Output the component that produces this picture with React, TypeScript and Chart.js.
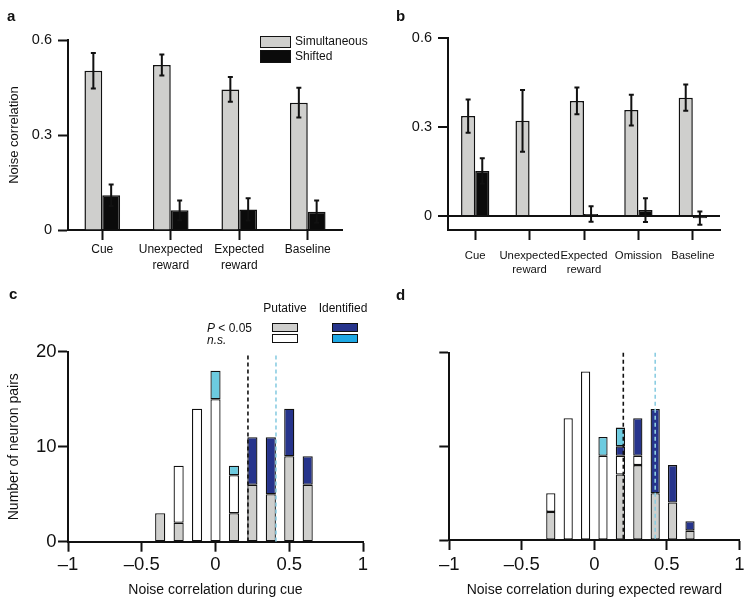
import { useEffect, useRef } from 'react';
import { Chart, registerables } from 'chart.js';

Chart.register(...registerables);

const FONT = '"Liberation Sans", Arial, Helvetica, sans-serif';
Chart.defaults.font.family = FONT;
Chart.defaults.color = '#111';

// ---------- Panel a ----------
const catsA = ['Cue', ['Unexpected', 'reward'], ['Expected', 'reward'], 'Baseline'];
const simA = [0.503, 0.521, 0.444, 0.402];
const simErrA = [0.056, 0.033, 0.039, 0.047];
const shiftA = [0.11, 0.062, 0.065, 0.058];
const shiftErrA = [0.034, 0.031, 0.035, 0.035];
const yTicksAB = [0, 0.3, 0.6];

// ---------- Panel b ----------
const catsB = ['Cue', ['Unexpected', 'reward'], ['Expected', 'reward'], 'Omission', 'Baseline'];
const simB = [0.337, 0.321, 0.388, 0.357, 0.399];
const simErrB = [0.056, 0.104, 0.045, 0.052, 0.044];
const shiftB = [0.152, null, 0.007, 0.02, -0.007];
const shiftErrB = [0.043, null, 0.026, 0.04, 0.022];

// ---------- Panel c ----------
const binsC = [-0.375, -0.25, -0.125, 0, 0.125, 0.25, 0.375, 0.5, 0.625];
const putSigC = [3, 2, 0, 0, 3, 6, 5, 9, 6];
const putNsC = [0, 6, 14, 15, 4, 0, 0, 0, 0];
const idSigC = [0, 0, 0, 0, 0, 5, 6, 5, 3];
const idNsC = [0, 0, 0, 3, 1, 0, 0, 0, 0];
const meanPutC = 0.22;
const meanIdC = 0.41;
const meanTopC = 19.6;

// ---------- Panel d ----------
const binsD = [-0.3, -0.18, -0.06, 0.06, 0.18, 0.3, 0.42, 0.54, 0.66];
const putSigD = [3, 0, 0, 0, 7, 8, 5, 4, 1];
const putNsD = [2, 13, 18, 9, 2, 1, 0, 0, 0];
const idSigD = [0, 0, 0, 0, 1, 4, 9, 4, 1];
const idNsD = [0, 0, 0, 2, 2, 0, 0, 0, 0];
const meanPutD = 0.2;
const meanIdD = 0.42;
const meanTopD = 20;

const xTicksHist = [-1, -0.5, 0, 0.5, 1];
const yTicksHist = [0, 10, 20];

// ---------- colours ----------
const INK = '#111111';
const GRAY = '#cfcfcd';
const BLACK = '#0b0b0b';
const NAVY = '#26348c';
const LIGHTBLUE = '#6ccbe0';
const LEGEND_LIGHTBLUE = '#1ea8e4';
const DASH_BLUE = '#8ccde2';

const errorBarPlugin = {
  id: 'errorBars',
  afterDatasetsDraw(chart: any) {
    const ctx = chart.ctx;
    const ys = chart.scales.y;
    chart.data.datasets.forEach((ds: any, di: number) => {
      const errs = ds.errors;
      if (!errs) return;
      const meta = chart.getDatasetMeta(di);
      meta.data.forEach((bar: any, i: number) => {
        const v = ds.data[i];
        const e = errs[i];
        if (v == null || e == null) return;
        const x = bar.x;
        const top = ys.getPixelForValue(v + e);
        const bot = ys.getPixelForValue(v - e);
        ctx.save();
        ctx.strokeStyle = INK;
        ctx.lineWidth = 2;
        ctx.beginPath();
        ctx.moveTo(x, top);
        ctx.lineTo(x, bot);
        ctx.moveTo(x - 2.5, top);
        ctx.lineTo(x + 2.5, top);
        ctx.moveTo(x - 2.5, bot);
        ctx.lineTo(x + 2.5, bot);
        ctx.stroke();
        ctx.restore();
      });
    });
  },
};

function meanLinesPlugin(lines: { x: number; color: string }[], top: number) {
  return {
    id: 'meanLines',
    afterDatasetsDraw(chart: any) {
      const ctx = chart.ctx;
      const xs = chart.scales.x;
      const ys = chart.scales.y;
      lines.forEach((l) => {
        const px = xs.getPixelForValue(l.x);
        ctx.save();
        ctx.setLineDash([4, 3]);
        ctx.lineWidth = 1.6;
        ctx.strokeStyle = l.color;
        ctx.beginPath();
        ctx.moveTo(px, ys.getPixelForValue(top));
        ctx.lineTo(px, ys.getPixelForValue(0));
        ctx.stroke();
        ctx.restore();
      });
    },
  };
}

const axisGrid = (extra: any = {}) => ({
  display: true,
  drawOnChartArea: false,
  drawTicks: true,
  tickLength: 10,
  tickColor: INK,
  tickWidth: 2,
  ...extra,
});
const axisBorder = { display: true, color: INK, width: 2 };

function barConfig(
  cats: any[],
  sim: (number | null)[],
  simErr: (number | null)[],
  shift: (number | null)[],
  shiftErr: (number | null)[],
  p: { top: number; right: number; yWidth: number; xHeight: number; min: number; xFont: number; xLh: number; xPad: number; title?: string; zeroLine?: boolean }
) {
  return {
    type: 'bar',
    data: {
      labels: cats,
      datasets: [
        { label: 'Simultaneous', data: sim, errors: simErr, backgroundColor: GRAY, borderColor: INK, borderWidth: 1.5, categoryPercentage: 0.52, barPercentage: 1 },
        { label: 'Shifted', data: shift, errors: shiftErr, backgroundColor: BLACK, borderColor: INK, borderWidth: 1.5, categoryPercentage: 0.52, barPercentage: 1 },
      ],
    },
    options: {
      responsive: false,
      animation: false,
      devicePixelRatio: 1,
      layout: { padding: { top: p.top, right: p.right, left: 0, bottom: 0 } },
      plugins: { legend: { display: false }, tooltip: { enabled: false } },
      scales: {
        x: {
          offset: true,
          grid: axisGrid({ offset: false }),
          border: axisBorder,
          ticks: { color: INK, font: { size: p.xFont, lineHeight: p.xLh }, padding: p.xPad, maxRotation: 0, autoSkip: false },
          afterFit: (s: any) => { s.height = p.xHeight; },
        },
        y: {
          min: p.min,
          max: 0.6,
          afterBuildTicks: (s: any) => { s.ticks = yTicksAB.map((v) => ({ value: v })); },
          grid: p.zeroLine
            ? axisGrid({ drawOnChartArea: true, lineWidth: 2, color: (c: any) => (c.tick && c.tick.value === 0 ? INK : 'rgba(0,0,0,0)') })
            : axisGrid(),
          border: axisBorder,
          ticks: { color: INK, font: { size: 14.5 }, padding: 6, callback: (v: any) => String(v) },
          title: p.title
            ? { display: true, text: p.title, color: INK, font: { size: 13 }, padding: { top: 6.7, bottom: 0 } }
            : { display: false },
          afterFit: (s: any) => { s.width = p.yWidth; },
        },
      },
    },
    plugins: [errorBarPlugin],
  };
}

function histConfig(
  bins: number[],
  putSig: number[],
  putNs: number[],
  idSig: number[],
  idNs: number[],
  means: { x: number; color: string }[],
  meanTop: number,
  p: { top: number; right: number; yWidth: number; xHeight: number; xPad: number; catPct: number; xTitle: string; yTitle?: string; yLabels: boolean }
) {
  const pts = (arr: number[]) => bins.map((b, i) => ({ x: b, y: arr[i] > 0 ? arr[i] : null }));
  const common = { borderColor: INK, borderWidth: 1.3, borderSkipped: false, barPercentage: 1, categoryPercentage: p.catPct };
  return {
    type: 'bar',
    data: {
      datasets: [
        { label: 'Putative P < 0.05', data: pts(putSig), backgroundColor: GRAY, ...common },
        { label: 'Putative n.s.', data: pts(putNs), backgroundColor: '#ffffff', ...common },
        { label: 'Identified P < 0.05', data: pts(idSig), backgroundColor: NAVY, ...common },
        { label: 'Identified n.s.', data: pts(idNs), backgroundColor: LIGHTBLUE, ...common },
      ],
    },
    options: {
      responsive: false,
      animation: false,
      devicePixelRatio: 1,
      layout: { padding: { top: p.top, right: p.right, left: 0, bottom: 0 } },
      plugins: { legend: { display: false }, tooltip: { enabled: false } },
      scales: {
        x: {
          type: 'linear',
          min: -1,
          max: 1,
          stacked: true,
          offset: false,
          afterBuildTicks: (s: any) => { s.ticks = xTicksHist.map((v) => ({ value: v })); },
          grid: axisGrid({ offset: false }),
          border: axisBorder,
          ticks: {
            color: INK,
            font: { size: 18.5 },
            padding: p.xPad,
            maxRotation: 0,
            callback: (v: any) => (v < 0 ? '\u2013' + Math.abs(v) : String(v)),
          },
          title: { display: true, text: p.xTitle, color: INK, font: { size: 14 }, padding: { top: 0, bottom: 8.6 } },
          afterFit: (s: any) => { s.height = p.xHeight; },
        },
        y: {
          min: 0,
          max: 20,
          stacked: true,
          afterBuildTicks: (s: any) => { s.ticks = yTicksHist.map((v) => ({ value: v })); },
          grid: axisGrid(),
          border: axisBorder,
          ticks: { display: p.yLabels, color: INK, font: { size: 18.5 }, padding: 1.5, callback: (v: any) => String(v) },
          title: p.yTitle
            ? { display: true, text: p.yTitle, color: INK, font: { size: 14 }, padding: { top: 5.6, bottom: 0 } }
            : { display: false },
          afterFit: (s: any) => { s.width = p.yWidth; },
        },
      },
    },
    plugins: [meanLinesPlugin(means, meanTop)],
  };
}

function ChartCanvas({ left, top, width, height, make }: { left: number; top: number; width: number; height: number; make: () => any }) {
  const ref = useRef<HTMLCanvasElement>(null);
  useEffect(() => {
    const chart = new Chart(ref.current as HTMLCanvasElement, make());
    return () => chart.destroy();
  }, []);
  return <canvas ref={ref} width={width} height={height} style={{ position: 'absolute', left, top, width, height }} />;
}

const txt = (left: number, top: number, size: number, extra: any = {}) => ({
  position: 'absolute' as const,
  left,
  top,
  fontSize: size,
  lineHeight: `${Math.round(size * 1.2)}px`,
  whiteSpace: 'nowrap' as const,
  color: INK,
  ...extra,
});

const swatch = (left: number, top: number, color: string) => ({
  position: 'absolute' as const,
  left,
  top,
  width: 26,
  height: 9,
  boxSizing: 'border-box' as const,
  border: `1.5px solid ${INK}`,
  background: color,
});

export default function App() {
  return (
    <div style={{ position: 'absolute', left: 0, top: 0, width: 752, height: 607, background: '#fff', fontFamily: FONT, color: INK }}>
      <ChartCanvas
        left={0}
        top={0}
        width={372}
        height={290}
        make={() => barConfig(catsA, simA, simErrA, shiftA, shiftErrA, { top: 40, right: 30, yWidth: 68, xHeight: 60, min: 0, xFont: 12, xLh: 1.3, xPad: 2, title: 'Noise correlation' })}
      />
      <ChartCanvas
        left={372}
        top={0}
        width={380}
        height={290}
        make={() => barConfig(catsB, simB, simErrB, shiftB, shiftErrB, { top: 38, right: 32, yWidth: 76, xHeight: 60, min: -0.047, xFont: 11.3, xLh: 1.25, xPad: 9, zeroLine: true })}
      />
      <ChartCanvas
        left={0}
        top={290}
        width={372}
        height={317}
        make={() =>
          histConfig(binsC, putSigC, putNsC, idSigC, idNsC, [{ x: meanPutC, color: INK }, { x: meanIdC, color: DASH_BLUE }], meanTopC, {
            top: 61.7, right: 9, yWidth: 68, xHeight: 65.3, xPad: 2.2, catPct: 0.55, xTitle: 'Noise correlation during cue', yTitle: 'Number of neuron pairs', yLabels: true,
          })
        }
      />
      <ChartCanvas
        left={372}
        top={290}
        width={380}
        height={317}
        make={() =>
          histConfig(binsD, putSigD, putNsD, idSigD, idNsD, [{ x: meanPutD, color: INK }, { x: meanIdD, color: DASH_BLUE }], meanTopD, {
            top: 62.7, right: 12.7, yWidth: 77.3, xHeight: 67, xPad: 3.9, catPct: 0.53, xTitle: 'Noise correlation during expected reward', yLabels: false,
          })
        }
      />

      {/* panel letters */}
      <div style={txt(7, 7, 15, { fontWeight: 'bold' })}>a</div>
      <div style={txt(396, 7, 15, { fontWeight: 'bold' })}>b</div>
      <div style={txt(9, 285, 15, { fontWeight: 'bold' })}>c</div>
      <div style={txt(396, 286, 15, { fontWeight: 'bold' })}>d</div>

      {/* legend a */}
      <div style={{ ...swatch(260, 36, GRAY), width: 31, height: 12 }} />
      <div style={{ ...swatch(260, 50, BLACK), width: 31, height: 13 }} />
      <div style={txt(295, 34, 12)}>Simultaneous</div>
      <div style={txt(295, 49, 12)}>Shifted</div>

      {/* legend c */}
      <div style={txt(255, 301, 12, { width: 60, textAlign: 'center' })}>Putative</div>
      <div style={txt(313, 301, 12, { width: 60, textAlign: 'center' })}>Identified</div>
      <div style={txt(207, 321, 12)}>
        <i>P</i> &lt; 0.05
      </div>
      <div style={txt(207, 333, 12, { fontStyle: 'italic' })}>n.s.</div>
      <div style={swatch(272, 323, GRAY)} />
      <div style={swatch(272, 334, '#ffffff')} />
      <div style={swatch(332, 323, NAVY)} />
      <div style={swatch(332, 334, LEGEND_LIGHTBLUE)} />
    </div>
  );
}
